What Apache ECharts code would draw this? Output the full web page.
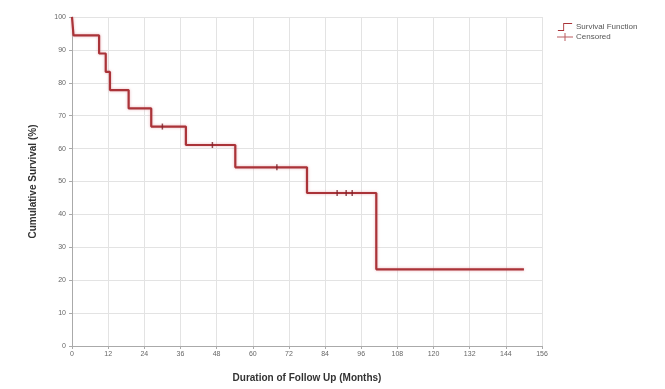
<!DOCTYPE html>
<html><head><meta charset="utf-8">
<script src="https://cdn.jsdelivr.net/npm/echarts@6/dist/echarts.min.js"></script>
<style>html,body{margin:0;padding:0;background:#fff}#c{width:665px;height:389px}</style>
</head><body><div id="c"></div>
<script>
// Kaplan-Meier survival steps (months, %)
const survTimes = [0, 0.5, 9, 11.2, 12.6, 18.8, 26.3, 37.8, 54.2, 78, 101, 150];
const survValues = [100, 94.4, 88.9, 83.3, 77.8, 72.2, 66.7, 61.1, 54.3, 46.5, 23.3, 23.3];
// Censored observations
const censTimes = [30, 46.6, 68, 88, 91, 93];
const censValues = [66.7, 61.1, 54.3, 46.5, 46.5, 46.5];
const xTicks = [0, 12, 24, 36, 48, 60, 72, 84, 96, 108, 120, 132, 144, 156];
const yTicks = [0, 10, 20, 30, 40, 50, 60, 70, 80, 90, 100];

const red = '#aa3338';
const chart = echarts.init(document.getElementById('c'), null, {renderer: 'canvas'});
chart.setOption({
  animation: false,
  color: [red, red],
  textStyle: {fontFamily: 'Liberation Sans, Arial, sans-serif'},
  grid: {left: 72, right: 123, top: 17, bottom: 43},
  legend: {
    orient: 'vertical', left: 552, top: 18, itemGap: 2, itemWidth: 16, itemHeight: 8,
    textStyle: {fontSize: 8, color: '#555', padding: [0, 0, 0, -2]},
    itemStyle: {color: red, borderWidth: 0, shadowBlur: 0},
    lineStyle: {width: 0, shadowBlur: 0},
    data: [
      {name: 'Survival Function', icon: 'path://M0,8 L6,8 L6,0 L16,0 L16,1 L7,1 L7,9 L0,9 Z'},
      {name: 'Censored', icon: 'path://M0,4 L16,4 L16,5 L0,5 Z M7.5,0.5 L8.5,0.5 L8.5,8.5 L7.5,8.5 Z'}
    ]
  },
  xAxis: {
    type: 'value', min: 0, max: 156, interval: 12,
    name: 'Duration of Follow Up (Months)', nameLocation: 'middle', nameGap: 27,
    nameTextStyle: {fontSize: 10, color: '#333', fontWeight: 'bold'},
    axisLine: {lineStyle: {color: '#aaa'}},
    axisTick: {show: true, length: 3, lineStyle: {color: '#aaa'}},
    axisLabel: {fontSize: 7, color: '#666', margin: 5,
      formatter: v => xTicks.includes(v) ? String(v) : ''},
    splitLine: {show: true, lineStyle: {color: '#e3e3e3'}}
  },
  yAxis: {
    type: 'value', min: 0, max: 100, interval: 10,
    name: 'Cumulative Survival (%)', nameLocation: 'middle', nameGap: 34, nameRotate: 90,
    nameTextStyle: {fontSize: 10, color: '#333', fontWeight: 'bold'},
    axisLine: {show: true, lineStyle: {color: '#aaa'}},
    axisTick: {show: true, length: 3, lineStyle: {color: '#aaa'}},
    axisLabel: {fontSize: 7, color: '#666', margin: 6,
      formatter: v => yTicks.includes(v) ? String(v) : ''},
    splitLine: {show: true, lineStyle: {color: '#e3e3e3'}}
  },
  series: [
    {
      name: 'Survival Function', type: 'line', step: 'end', showSymbol: false,
      data: survTimes.map((t, i) => [t, survValues[i]]),
      lineStyle: {color: red, width: 2.2, shadowColor: 'rgba(220,130,140,0.6)', shadowBlur: 3},
      itemStyle: {color: red}, z: 3
    },
    {
      name: 'Censored', type: 'scatter', symbol: 'rect', symbolSize: [1.5, 6],
      data: censTimes.map((t, i) => [t, censValues[i]]),
      itemStyle: {color: '#7a2028'}, z: 4
    }
  ]
});
</script>
</body></html>
